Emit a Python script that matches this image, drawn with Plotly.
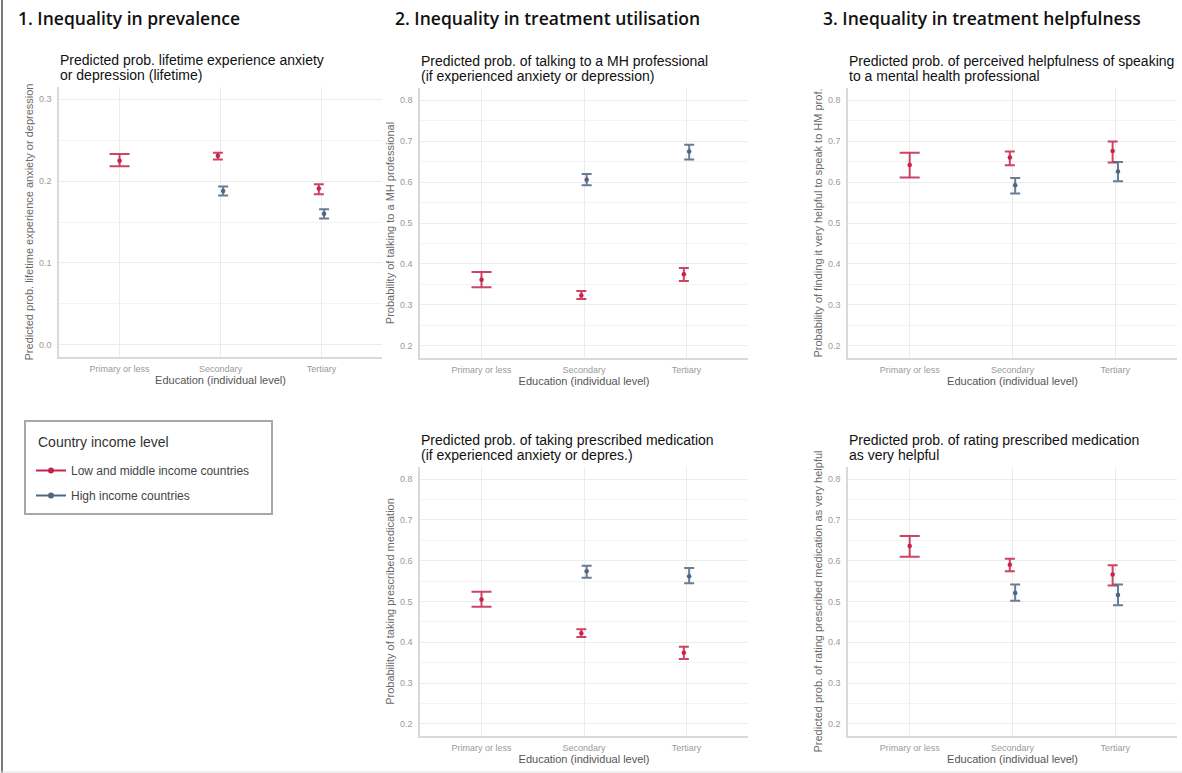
import plotly.graph_objects as go

W, H = 1182, 773

categories = ["Primary or less", "Secondary", "Tertiary"]
groups = ["Low and middle income countries", "High income countries"]
colors = {"Low and middle income countries": "#C4234C", "High income countries": "#4F6680"}
err_colors = {"Low and middle income countries": "rgba(196,35,76,0.85)",
              "High income countries": "rgba(79,102,128,0.85)"}

# Panel 1: lifetime anxiety / depression
prev_lmic = [0.225, 0.231, 0.191]
prev_lmic_lo = [0.218, 0.2265, 0.184]
prev_lmic_hi = [0.233, 0.2347, 0.196]
prev_hic = [None, 0.188, 0.160]
prev_hic_lo = [None, 0.1824, 0.1543]
prev_hic_hi = [None, 0.1935, 0.1657]

# Panel 2: talking to a MH professional
talk_lmic = [0.361, 0.323, 0.375]
talk_lmic_lo = [0.343, 0.314, 0.358]
talk_lmic_hi = [0.380, 0.334, 0.390]
talk_hic = [None, 0.606, 0.675]
talk_hic_lo = [None, 0.592, 0.655]
talk_hic_hi = [None, 0.620, 0.691]

# Panel 3: helpfulness of speaking to a MH professional
help_lmic = [0.642, 0.660, 0.676]
help_lmic_lo = [0.611, 0.641, 0.648]
help_lmic_hi = [0.672, 0.675, 0.699]
help_hic = [None, 0.592, 0.626]
help_hic_lo = [None, 0.572, 0.602]
help_hic_hi = [None, 0.610, 0.649]

# Panel 4: taking prescribed medication
med_lmic = [0.505, 0.422, 0.374]
med_lmic_lo = [0.487, 0.413, 0.359]
med_lmic_hi = [0.524, 0.432, 0.389]
med_hic = [None, 0.574, 0.562]
med_hic_lo = [None, 0.558, 0.545]
med_hic_hi = [None, 0.588, 0.582]

# Panel 5: rating prescribed medication as very helpful
medhelp_lmic = [0.636, 0.590, 0.566]
medhelp_lmic_lo = [0.610, 0.574, 0.539]
medhelp_lmic_hi = [0.661, 0.605, 0.589]
medhelp_hic = [None, 0.521, 0.516]
medhelp_hic_lo = [None, 0.502, 0.491]
medhelp_hic_hi = [None, 0.542, 0.542]

headings = ["1. Inequality in prevalence",
            "2. Inequality in treatment utilisation",
            "3. Inequality in treatment helpfulness"]

legend_title = "Country income level"

panels = [
    dict(sub=["Predicted prob. lifetime experience anxiety", "or depression (lifetime)"],
         ytitle="Predicted prob. lifetime experience anxiety or depression",
         data={groups[0]: (prev_lmic, prev_lmic_lo, prev_lmic_hi),
               groups[1]: (prev_hic, prev_hic_lo, prev_hic_hi)},
         box=(59, 382, 87, 357), yrange=[-0.015, 0.315], tick0=0.0),
    dict(sub=["Predicted prob. of talking to a MH professional", "(if experienced anxiety or depression)"],
         ytitle="Probability of talking to a MH professional",
         data={groups[0]: (talk_lmic, talk_lmic_lo, talk_lmic_hi),
               groups[1]: (talk_hic, talk_hic_lo, talk_hic_hi)},
         box=(420, 748, 88, 358), yrange=[0.17, 0.83], tick0=0.2),
    dict(sub=["Predicted prob. of perceived helpfulness of speaking", "to a mental health professional"],
         ytitle="Probability of finding it very helpful to speak to HM prof.",
         data={groups[0]: (help_lmic, help_lmic_lo, help_lmic_hi),
               groups[1]: (help_hic, help_hic_lo, help_hic_hi)},
         box=(848, 1177, 88, 358), yrange=[0.17, 0.83], tick0=0.2),
    dict(sub=["Predicted prob. of taking prescribed medication", "(if experienced anxiety or depres.)"],
         ytitle="Probability of taking prescribed medication",
         data={groups[0]: (med_lmic, med_lmic_lo, med_lmic_hi),
               groups[1]: (med_hic, med_hic_lo, med_hic_hi)},
         box=(420, 748, 467, 736), yrange=[0.17, 0.83], tick0=0.2),
    dict(sub=["Predicted prob. of rating prescribed medication", "as very helpful"],
         ytitle="Predicted prob. of rating prescribed medication as very helpful",
         data={groups[0]: (medhelp_lmic, medhelp_lmic_lo, medhelp_lmic_hi),
               groups[1]: (medhelp_hic, medhelp_hic_lo, medhelp_hic_hi)},
         box=(848, 1177, 467, 736), yrange=[0.17, 0.83], tick0=0.2),
]

FONT = "Liberation Sans, Arial, sans-serif"
DODGE = 0.026

fig = go.Figure()
layout = dict(
    width=W, height=H, margin=dict(l=0, r=0, t=0, b=0),
    paper_bgcolor="white", plot_bgcolor="white",
    font=dict(family=FONT, color="#444"),
    showlegend=True,
    annotations=[], shapes=[],
)


def px_x(v):
    return v / W


def px_y(v):
    return 1 - v / H


for i, p in enumerate(panels, start=1):
    sfx = "" if i == 1 else str(i)
    xa, ya = f"x{sfx}", f"y{sfx}"
    x0, x1, y0, y1 = p["box"]
    layout[f"xaxis{sfx}"] = dict(
        domain=[px_x(x0), px_x(x1)], anchor=ya, range=[0.4, 3.6],
        tickmode="array", tickvals=[1, 2, 3], ticktext=categories,
        tickfont=dict(size=9, color="#9a9a9a"), ticks="", ticklabelstandoff=2,
        showgrid=True, gridcolor="#ececec", gridwidth=1, zeroline=False,
        showline=True, linecolor="#d9d9d9", linewidth=1.5,
        title=dict(text="Education (individual level)", font=dict(size=11, color="#555"), standoff=2),
    )
    layout[f"yaxis{sfx}"] = dict(
        domain=[px_y(y1), px_y(y0)], anchor=xa, range=p["yrange"],
        tickmode="linear", tick0=p["tick0"], dtick=0.1, tickformat=".1f",
        tickfont=dict(size=9, color="#9a9a9a"), ticks="", ticklabelstandoff=4,
        showgrid=True, gridcolor="#ececec", gridwidth=1, zeroline=False,
        minor=dict(dtick=0.05, showgrid=True, gridcolor="#f3f3f3", gridwidth=1),
        showline=True, linecolor="#d9d9d9", linewidth=1.5,
        title=dict(text=p["ytitle"], font=dict(size=11, color="#6a6a6a"), standoff=3),
    )

    for g_idx, g in enumerate(groups):
        est, lo, hi = p["data"][g]
        for c_idx, cat in enumerate(categories):
            if est[c_idx] is None:
                continue
            n_present = sum(p["data"][gg][0][c_idx] is not None for gg in groups)
            offset = 0.0 if n_present == 1 else (-DODGE if g_idx == 0 else DODGE)
            cap = 10 if n_present == 1 else 5
            fig.add_trace(go.Scatter(
                x=[c_idx + 1 + offset], y=[est[c_idx]], xaxis=xa, yaxis=ya,
                mode="markers", showlegend=False, name=g,
                marker=dict(color=colors[g], size=4.5),
                error_y=dict(type="data", symmetric=False,
                             array=[hi[c_idx] - est[c_idx]],
                             arrayminus=[est[c_idx] - lo[c_idx]],
                             color=err_colors[g], thickness=2, width=cap),
                hovertemplate=f"{g}<br>{cat}: %{{y:.3f}}<extra></extra>",
            ))

    # two-line panel subtitle
    for line_idx, line in enumerate(p["sub"]):
        layout["annotations"].append(dict(
            text=line, xref="paper", yref="paper", x=px_x(x0 - 1),
            y=px_y(y0 - 27 + 15 * line_idx),
            xanchor="left", yanchor="middle", align="left", showarrow=False,
            font=dict(size=14, color="#111", family=FONT),
        ))

# legend entries
for g in groups:
    fig.add_trace(go.Scatter(
        x=[None], y=[None], mode="lines+markers", name=g, legendgroup=g,
        line=dict(color=colors[g], width=2), marker=dict(color=colors[g], size=6),
    ))

layout["legend"] = dict(
    x=px_x(31), y=px_y(456), xanchor="left", yanchor="top",
    borderwidth=0, bgcolor="rgba(0,0,0,0)",
    font=dict(size=12, color="#444"), tracegroupgap=6,
)
# legend frame and title
layout["shapes"].append(dict(type="rect", xref="paper", yref="paper",
                             x0=px_x(25), x1=px_x(272), y0=px_y(514), y1=px_y(421),
                             line=dict(color="#a8a8a8", width=2), fillcolor="rgba(0,0,0,0)"))
layout["annotations"].append(dict(
    text=legend_title, xref="paper", yref="paper", x=px_x(36), y=px_y(442),
    xanchor="left", yanchor="middle", showarrow=False,
    font=dict(size=14, color="#333", family=FONT),
))

heading_x = [16, 393, 821]
for hx, text in zip(heading_x, headings):
    layout["annotations"].append(dict(
        text=text, xref="paper", yref="paper", x=px_x(hx), y=px_y(18),
        xanchor="left", yanchor="middle", showarrow=False,
        font=dict(size=17.5, color="#111", family="Open Sans, sans-serif", weight=600),
    ))

# page frame edges
layout["shapes"].append(dict(type="line", xref="paper", yref="paper",
                             x0=px_x(2), x1=px_x(2), y0=0, y1=1,
                             line=dict(color="#7a7a7a", width=2)))
layout["shapes"].append(dict(type="line", xref="paper", yref="paper",
                             x0=0, x1=1, y0=px_y(772), y1=px_y(772),
                             line=dict(color="#e2e2e2", width=1)))

fig.update_layout(**layout)
fig.write_html("out.html")
